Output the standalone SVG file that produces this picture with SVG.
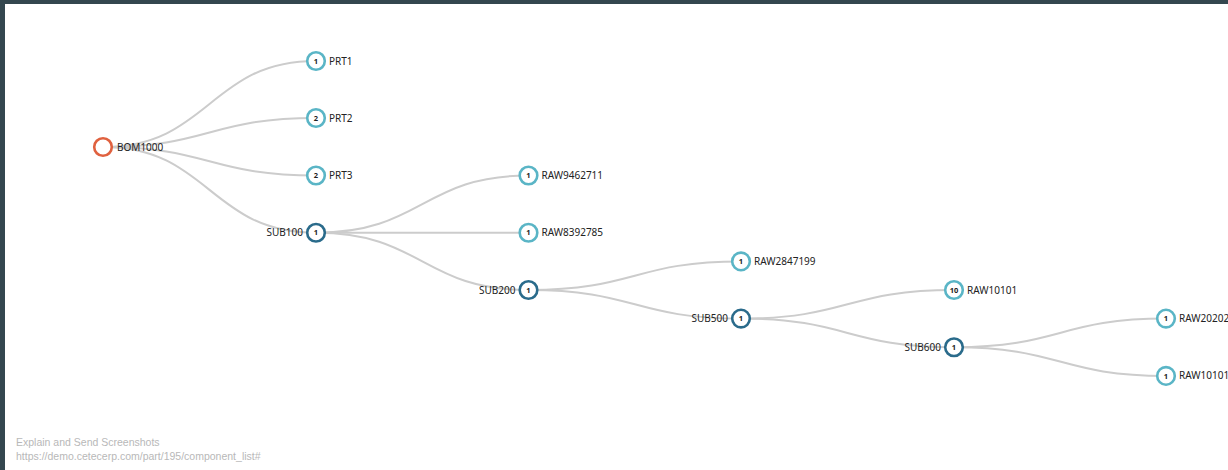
<svg xmlns="http://www.w3.org/2000/svg" width="1228" height="470" viewBox="0 0 1228 470">
<style>
.link{fill:none;stroke:#cccccc;stroke-width:2}
.node circle{fill:#fff;stroke-width:2.6}
.leaf circle{stroke:#5ab5c6}
.sub circle{stroke:#2a6b8b}
.root circle{stroke:#e0613f}
.lbl{font-family:"Noto Sans","DejaVu Sans",sans-serif;font-size:10px;fill:#222}
.num{font-family:"Noto Sans","DejaVu Sans",sans-serif;font-size:7.5px;font-weight:bold;fill:#222;text-anchor:middle}
.foot{font-family:"Liberation Sans",Arial,sans-serif;font-size:10.5px;fill:#b8b8b8}
</style>
<rect x="0" y="0" width="1228" height="470" fill="#ffffff"/>
<rect x="0" y="0" width="1228" height="4" fill="#34474f"/>
<rect x="0" y="0" width="5" height="470" fill="#34474f"/>
<g id="connectors">
<path class="link" d="M103,147 C209.5,147 209.5,61 316,61"/>
<path class="link" d="M103,147 C209.5,147 209.5,118 316,118"/>
<path class="link" d="M103,147 C209.5,147 209.5,175.5 316,175.5"/>
<path class="link" d="M103,147 C209.5,147 209.5,232.75 316,232.75"/>
<path class="link" d="M316,232.75 C422.3,232.75 422.3,175.5 528.5,175.5"/>
<path class="link" d="M316,232.75 L528.5,232.75"/>
<path class="link" d="M316,232.75 C422.3,232.75 422.3,290 528.5,290"/>
<path class="link" d="M528.5,290 C634.8,290 634.8,261.4 741,261.4"/>
<path class="link" d="M528.5,290 C634.8,290 634.8,318.6 741,318.6"/>
<path class="link" d="M741,318.6 C847.5,318.6 847.5,290 954,290"/>
<path class="link" d="M741,318.6 C847.5,318.6 847.5,347.25 954,347.25"/>
<path class="link" d="M954,347.25 C1060,347.25 1060,318.6 1166,318.6"/>
<path class="link" d="M954,347.25 C1060,347.25 1060,375.9 1166,375.9"/>
</g>
<g id="n-bom1000" class="node root" transform="translate(103,147)">
<circle r="8.8"/><text class="lbl" x="14" y="3.5">BOM1000</text>
</g>
<g id="n-prt1" class="node leaf" transform="translate(316,61)">
<circle r="8.8"/><text class="num" y="2.7">1</text><text class="lbl" x="13" y="3.5">PRT1</text>
</g>
<g id="n-prt2" class="node leaf" transform="translate(316,118)">
<circle r="8.8"/><text class="num" y="2.7">2</text><text class="lbl" x="13" y="3.5">PRT2</text>
</g>
<g id="n-prt3" class="node leaf" transform="translate(316,175.5)">
<circle r="8.8"/><text class="num" y="2.7">2</text><text class="lbl" x="13" y="3.5">PRT3</text>
</g>
<g id="n-sub100" class="node sub" transform="translate(316,232.75)">
<circle r="8.8"/><text class="num" y="2.7">1</text><text class="lbl" x="-13" y="3.5" text-anchor="end">SUB100</text>
</g>
<g id="n-raw9462711" class="node leaf" transform="translate(528.5,175.5)">
<circle r="8.8"/><text class="num" y="2.7">1</text><text class="lbl" x="13" y="3.5">RAW9462711</text>
</g>
<g id="n-raw8392785" class="node leaf" transform="translate(528.5,232.75)">
<circle r="8.8"/><text class="num" y="2.7">1</text><text class="lbl" x="13" y="3.5">RAW8392785</text>
</g>
<g id="n-sub200" class="node sub" transform="translate(528.5,290)">
<circle r="8.8"/><text class="num" y="2.7">1</text><text class="lbl" x="-13" y="3.5" text-anchor="end">SUB200</text>
</g>
<g id="n-raw2847199" class="node leaf" transform="translate(741,261.4)">
<circle r="8.8"/><text class="num" y="2.7">1</text><text class="lbl" x="13" y="3.5">RAW2847199</text>
</g>
<g id="n-sub500" class="node sub" transform="translate(741,318.6)">
<circle r="8.8"/><text class="num" y="2.7">1</text><text class="lbl" x="-13" y="3.5" text-anchor="end">SUB500</text>
</g>
<g id="n-raw10101a" class="node leaf" transform="translate(954,290)">
<circle r="8.8"/><text class="num" y="2.7">10</text><text class="lbl" x="13" y="3.5">RAW10101</text>
</g>
<g id="n-sub600" class="node sub" transform="translate(954,347.25)">
<circle r="8.8"/><text class="num" y="2.7">1</text><text class="lbl" x="-13" y="3.5" text-anchor="end">SUB600</text>
</g>
<g id="n-raw20202" class="node leaf" transform="translate(1166,318.6)">
<circle r="8.8"/><text class="num" y="2.7">1</text><text class="lbl" x="13" y="3.5">RAW20202</text>
</g>
<g id="n-raw10101b" class="node leaf" transform="translate(1166,375.9)">
<circle r="8.8"/><text class="num" y="2.7">1</text><text class="lbl" x="13" y="3.5">RAW10101</text>
</g>
<g id="footer">
<text class="foot" x="16" y="446">Explain and Send Screenshots</text>
<text class="foot" x="16" y="459.5">https://demo.cetecerp.com/part/195/component_list#</text>
</g>
</svg>
